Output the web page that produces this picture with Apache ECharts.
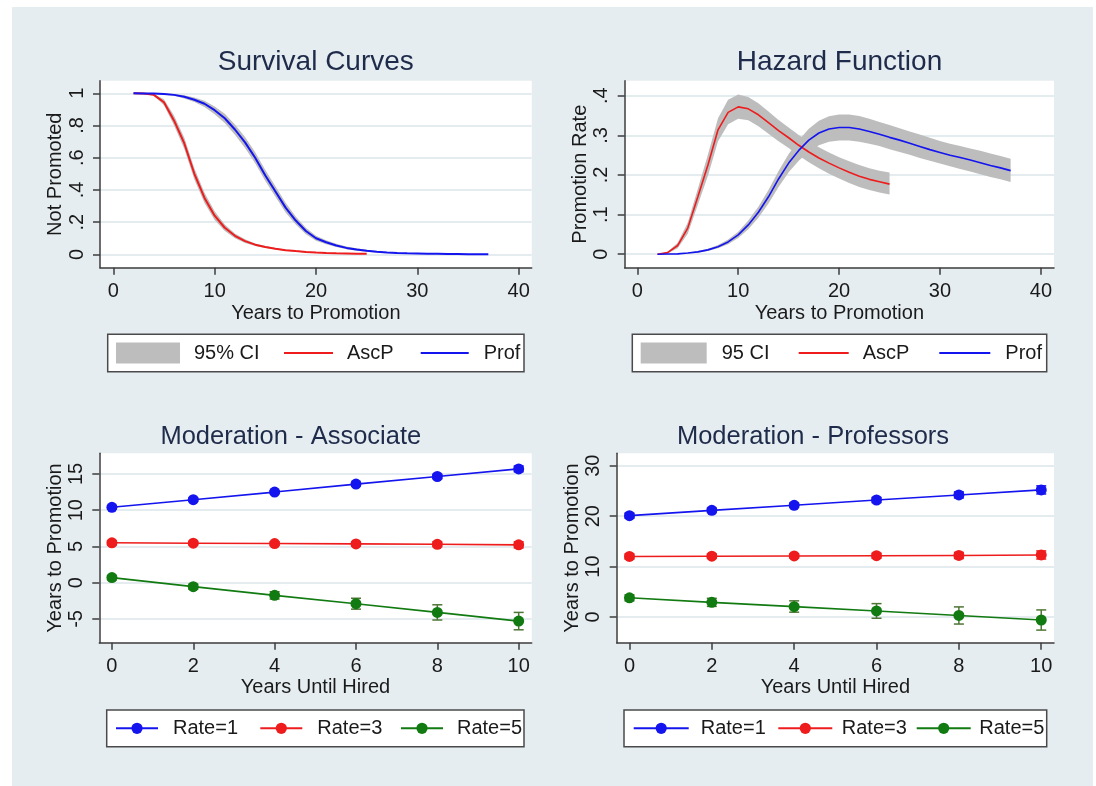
<!DOCTYPE html>
<html><head><meta charset="utf-8">
<script src="https://cdn.jsdelivr.net/npm/echarts@6/dist/echarts.min.js"></script>
<style>html,body{margin:0;padding:0;background:#fff;}#c{width:1096px;height:786px;}</style>
</head><body><div id="c"></div>
<script>
// ---------- data ----------
const ascYears  = [2,3,4,5,6,7,8,9,10,11,12,13,14,15,16,17,18,19,20,21,22,23,24,25];
const profYears = [2,3,4,5,6,7,8,9,10,11,12,13,14,15,16,17,18,19,20,21,22,23,24,25,26,27,28,29,30,31,32,33,34,35,36,37];

const survAsc   = [1,.998,.99,.944,.83,.69,.50,.35,.24,.165,.115,.082,.06,.046,.035,.026,.02,.015,.011,.008,.006,.005,.004,.003];
const survAscLo = [1,.996,.984,.925,.800,.655,.465,.318,.213,.145,.100,.071,.052,.040,.030,.022,.016,.012,.009,.006,.004,.003,.002,.001];
const survAscHi = [1,1,.996,.963,.860,.725,.535,.382,.267,.185,.130,.093,.068,.052,.040,.030,.024,.018,.013,.010,.008,.007,.006,.005];

const survProf   = [1,.999,.998,.995,.99,.978,.96,.935,.895,.845,.775,.695,.60,.49,.39,.29,.21,.145,.10,.075,.055,.04,.03,.022,.016,.011,.008,.006,.005,.004,.003,.002,.002,.001,.001,0];
const survProfLo = [1,.998,.996,.991,.984,.968,.945,.915,.870,.815,.742,.660,.565,.455,.357,.260,.185,.125,.085,.063,.045,.032,.023,.016,.012,.008,.006,.005,.004,.003,.002,.001,.001,0,0,0];
const survProfHi = [1,1,1,.998,.995,.987,.973,.953,.918,.873,.806,.728,.634,.524,.422,.320,.235,.165,.115,.087,.065,.048,.037,.028,.020,.014,.010,.007,.006,.005,.004,.003,.003,.002,.002,.001];

const hazAsc   = [0,.004,.022,.066,.145,.225,.314,.358,.372,.367,.352,.332,.312,.294,.275,.258,.243,.230,.218,.207,.197,.189,.183,.177];
const hazAscLo = [0,.002,.015,.052,.125,.198,.285,.328,.342,.338,.323,.304,.285,.268,.249,.232,.217,.203,.191,.180,.170,.162,.156,.151];
const hazAscHi = [0,.006,.029,.080,.165,.252,.343,.390,.403,.397,.381,.360,.339,.320,.301,.284,.270,.257,.245,.235,.225,.217,.211,.206];

const hazProf   = [0,.0005,.001,.003,.006,.011,.019,.031,.049,.074,.106,.145,.19,.23,.262,.288,.306,.316,.320,.320,.316,.310,.303,.295,.288,.280,.272,.264,.257,.250,.244,.238,.231,.224,.218,.211];
const hazProfLo = [0,0,0,.002,.004,.008,.015,.025,.041,.063,.092,.128,.170,.207,.236,.259,.275,.284,.287,.287,.284,.279,.273,.265,.258,.251,.243,.236,.229,.222,.215,.209,.202,.195,.189,.182];
const hazProfHi = [0,.001,.002,.004,.008,.014,.023,.037,.057,.085,.120,.162,.210,.253,.288,.317,.337,.348,.353,.353,.349,.342,.334,.326,.318,.310,.302,.294,.286,.279,.273,.267,.261,.254,.248,.241];

const hiredYears = [0,2,4,6,8,10];
// Moderation - Associate
const assocR1 = [10.4,11.45,12.5,13.6,14.65,15.7];
const assocR1Lo = [10.15,11.25,12.3,13.35,14.35,15.3];
const assocR1Hi = [10.65,11.65,12.7,13.85,14.95,16.1];
const assocR3 = [5.5,5.45,5.4,5.35,5.3,5.22];
const assocR3Lo = [5.2,5.2,5.15,5.05,4.95,4.8];
const assocR3Hi = [5.8,5.7,5.65,5.65,5.65,5.65];
const assocR5 = [0.7,-0.55,-1.75,-2.9,-4.1,-5.3];
const assocR5Lo = [0.4,-0.9,-2.25,-3.65,-5.15,-6.5];
const assocR5Hi = [1.0,-0.2,-1.25,-2.15,-3.05,-4.1];
// Moderation - Professors
const profR1 = [20.1,21.15,22.15,23.2,24.2,25.2];
const profR1Lo = [19.6,20.7,21.7,22.7,23.6,24.4];
const profR1Hi = [20.6,21.6,22.6,23.7,24.8,26.0];
const profR3 = [12.0,12.05,12.1,12.15,12.2,12.3];
const profR3Lo = [11.5,11.6,11.7,11.65,11.6,11.5];
const profR3Hi = [12.5,12.5,12.5,12.65,12.8,13.1];
const profR5 = [3.8,2.9,2.05,1.2,0.3,-0.6];
const profR5Lo = [3.2,2.1,0.95,-0.25,-1.4,-2.6];
const profR5Hi = [4.4,3.7,3.2,2.65,2.0,1.4];

// tick labels
const yearTicks = [0,10,20,30,40];
const survTicks = [0,0.2,0.4,0.6,0.8,1];
const hazTicks = [0,0.1,0.2,0.3,0.4];
const hiredTicks = [0,2,4,6,8,10];
const assocTicks = [-5,0,5,10,15];
const profTicks = [0,10,20,30];

// ---------- style ----------
const FONT = 'Liberation Sans, Arial, sans-serif';
const TXT = '#1a1a1a';
const TITLE = '#1e2b4a';
const AX = '#3c3c3c';
const GRIDC = '#e4ecef';
const BG = '#e6edf0';
const CI = '#bdbdbd';
const RED = '#ee1c1c';
const BLUE = '#1414ee';
const GREEN = '#117a11';
const GREEN_BAR = '#4f7535';

const fmt = v => { const s = String(+(+v).toFixed(3)); return s.replace(/^0\./, '.').replace(/^-0\./, '-.'); };

function xAxis(gi, min, max, ticks, name, nameGap) {
  return {
    type: 'value', gridIndex: gi, min, max, name, nameLocation: 'middle', nameGap,
    nameTextStyle: { fontSize: 20, color: TXT, fontFamily: FONT },
    axisLine: { show: true, onZero: false, lineStyle: { color: AX, width: 1.5 } },
    axisTick: { show: true, length: 7, customValues: ticks, lineStyle: { color: AX, width: 1.5 } },
    axisLabel: { customValues: ticks, fontSize: 20, color: TXT, fontFamily: FONT, margin: 14, formatter: fmt },
    splitLine: { show: false }
  };
}
function yAxis(gi, min, max, ticks, name, nameGap) {
  return {
    type: 'value', gridIndex: gi, min, max, name, nameLocation: 'middle', nameGap,
    nameTextStyle: { fontSize: 20, color: TXT, fontFamily: FONT },
    axisLine: { show: true, onZero: false, lineStyle: { color: AX, width: 1.5 } },
    axisTick: { show: true, length: 7, customValues: ticks, lineStyle: { color: AX, width: 1.5 } },
    axisLabel: { customValues: ticks, fontSize: 20, color: TXT, fontFamily: FONT, margin: 13, rotate: 90, formatter: fmt },
    splitLine: { show: true, lineStyle: { color: GRIDC, width: 2 } }
  };
}

function band(name, gi, xs, lo, hi) {
  return {
    type: 'custom', name, xAxisIndex: gi, yAxisIndex: gi, z: 1, silent: true,
    itemStyle: { color: CI },
    data: xs.map((x, i) => [x, lo[i], hi[i]]),
    encode: { x: 0, y: [1, 2] },
    renderItem(params, api) {
      if (params.dataIndex !== 0) return null;
      const pts = [];
      for (let i = 0; i < xs.length; i++) pts.push(api.coord([xs[i], hi[i]]));
      for (let i = xs.length - 1; i >= 0; i--) pts.push(api.coord([xs[i], lo[i]]));
      return { type: 'polygon', shape: { points: pts }, style: { fill: CI } };
    }
  };
}
function curve(name, gi, xs, ys, color, w) {
  return {
    type: 'line', name, xAxisIndex: gi, yAxisIndex: gi, z: 3, silent: true,
    symbol: 'none', color, lineStyle: { color, width: w }, itemStyle: { color },
    data: xs.map((x, i) => [x, ys[i]])
  };
}
function modLine(name, gi, xs, ys, color) {
  return {
    type: 'line', name, xAxisIndex: gi, yAxisIndex: gi, z: 3, silent: true,
    symbol: 'circle', symbolSize: 11, showSymbol: true, color,
    lineStyle: { color, width: 1.6 }, itemStyle: { color },
    data: xs.map((x, i) => [x, ys[i]])
  };
}
function errBars(name, gi, xs, lo, hi, color) {
  return {
    type: 'custom', name, xAxisIndex: gi, yAxisIndex: gi, z: 2, silent: true,
    data: xs.map((x, i) => [x, lo[i], hi[i]]),
    encode: { x: 0, y: [1, 2] },
    renderItem(params, api) {
      const x = api.value(0), l = api.value(1), h = api.value(2);
      const a = api.coord([x, h]), b = api.coord([x, l]);
      const cw = 5;
      const st = { stroke: color, lineWidth: 1.5, fill: null };
      return { type: 'group', children: [
        { type: 'line', shape: { x1: a[0], y1: a[1], x2: b[0], y2: b[1] }, style: st },
        { type: 'line', shape: { x1: a[0] - cw, y1: a[1], x2: a[0] + cw, y2: a[1] }, style: st },
        { type: 'line', shape: { x1: b[0] - cw, y1: b[1], x2: b[0] + cw, y2: b[1] }, style: st }
      ]};
    }
  };
}
// cy = desired vertical centre; legend box top is the top of the taller of icon / text (text box ~20px)
function leg(name, left, cy, w, h, pad, icon) {
  const boxH = Math.max(h, 20);
  const o = {
    data: [name], left, top: cy - boxH / 2, itemWidth: w, itemHeight: h, padding: 0,
    selectedMode: false, orient: 'horizontal',
    textStyle: { fontSize: 20, color: TXT, fontFamily: FONT, padding: [0, 0, 0, pad] }
  };
  if (icon) o.icon = icon;
  return o;
}
function gridBox(left, top, width, height) {
  return { left, top, width, height, show: true, backgroundColor: '#fff', borderWidth: 0, containLabel: false, outerBoundsMode: 'none' };
}
function titleAt(text, cx, top, size) {
  return { text, left: cx, top, textAlign: 'center', padding: 0,
    textStyle: { fontSize: size, fontWeight: 'normal', color: TITLE, fontFamily: FONT } };
}

const chart = echarts.init(document.getElementById('c'), null, { renderer: 'canvas' });
chart.setOption({
  backgroundColor: '#fff',
  animation: false,
  graphic: [
    { type: 'rect', z: -10, silent: true, shape: { x: 12, y: 7, width: 1081, height: 779 }, style: { fill: BG } },
    { type: 'rect', z: 1, silent: true, shape: { x: 107.7, y: 334.3, width: 416.3, height: 37.4 }, style: { fill: '#fff', stroke: '#4a4a4a', lineWidth: 1.5 } },
    { type: 'rect', z: 1, silent: true, shape: { x: 632.3, y: 334.3, width: 414.4, height: 37.4 }, style: { fill: '#fff', stroke: '#4a4a4a', lineWidth: 1.5 } },
    { type: 'rect', z: 1, silent: true, shape: { x: 106.7, y: 710, width: 417.3, height: 36.7 }, style: { fill: '#fff', stroke: '#4a4a4a', lineWidth: 1.5 } },
    { type: 'rect', z: 1, silent: true, shape: { x: 624, y: 710, width: 422.7, height: 36.7 }, style: { fill: '#fff', stroke: '#4a4a4a', lineWidth: 1.5 } }
  ],
  title: [
    titleAt('Survival Curves', 315.8, 48.7, 28),
    titleAt('Hazard Function', 839.5, 48.7, 28),
    titleAt('Moderation - Associate', 290.8, 424, 25.5),
    titleAt('Moderation - Professors', 813, 424, 25.5)
  ],
  grid: [
    gridBox(100, 80.7, 431.7, 187),
    gridBox(624.7, 80.7, 429.3, 187),
    gridBox(99.3, 453.3, 432.4, 189.4),
    gridBox(616.7, 453.3, 437.3, 189.4)
  ],
  xAxis: [
    xAxis(0, -1.31, 41.28, yearTicks, 'Years to Promotion', 36),
    xAxis(1, -1.25, 41.3, yearTicks, 'Years to Promotion', 36),
    xAxis(2, -0.31, 10.32, hiredTicks, 'Years Until Hired', 34),
    xAxis(3, -0.31, 10.31, hiredTicks, 'Years Until Hired', 34)
  ],
  yAxis: [
    yAxis(0, -0.083, 1.078, survTicks, 'Not Promoted', 35),
    yAxis(1, -0.034, 0.438, hazTicks, 'Promotion Rate', 34.7),
    yAxis(2, -8.28, 17.85, assocTicks, 'Years to Promotion', 33.3),
    yAxis(3, -5.1, 32.46, profTicks, 'Years to Promotion', 33.4)
  ],
  legend: [
    leg('95% CI', 116, 353, 64, 21, 9, 'rect'),
    leg('AscP', 284, 353, 49, 2, 9, 'rect'),
    leg('Prof', 420.7, 353, 48, 2, 10, 'rect'),
    leg('95 CI', 640.7, 353, 66, 21, 10, 'rect'),
    leg('AscP', 798.7, 353, 50, 2, 9, 'rect'),
    leg('Prof', 939.3, 353, 51, 2, 10, 'rect'),
    leg('Rate=1', 115, 728.3, 42, 14, 10),
    leg('Rate=3', 259.3, 728.3, 42, 14, 10),
    leg('Rate=5', 400, 728.3, 42, 14, 9),
    leg('Rate=1', 632.7, 728.3, 55, 14, 7),
    leg('Rate=3', 777.3, 728.3, 54, 14, 4.5),
    leg('Rate=5', 915.7, 728.3, 54, 14, 3.6)
  ],
  series: [
    band('95% CI', 0, ascYears, survAscLo, survAscHi),
    band('95% CI', 0, profYears, survProfLo, survProfHi),
    curve('AscP', 0, ascYears, survAsc, RED, 2),
    curve('Prof', 0, profYears, survProf, BLUE, 2),
    band('95 CI', 1, ascYears, hazAscLo, hazAscHi),
    band('95 CI', 1, profYears, hazProfLo, hazProfHi),
    curve('AscP', 1, ascYears, hazAsc, RED, 1.6),
    curve('Prof', 1, profYears, hazProf, BLUE, 1.6),
    modLine('Rate=1', 2, hiredYears, assocR1, BLUE),
    modLine('Rate=3', 2, hiredYears, assocR3, RED),
    modLine('Rate=5', 2, hiredYears, assocR5, GREEN),
    errBars('ciA1', 2, hiredYears, assocR1Lo, assocR1Hi, BLUE),
    errBars('ciA3', 2, hiredYears, assocR3Lo, assocR3Hi, RED),
    errBars('ciA5', 2, hiredYears, assocR5Lo, assocR5Hi, GREEN_BAR),
    modLine('Rate=1', 3, hiredYears, profR1, BLUE),
    modLine('Rate=3', 3, hiredYears, profR3, RED),
    modLine('Rate=5', 3, hiredYears, profR5, GREEN),
    errBars('ciP1', 3, hiredYears, profR1Lo, profR1Hi, BLUE),
    errBars('ciP3', 3, hiredYears, profR3Lo, profR3Hi, RED),
    errBars('ciP5', 3, hiredYears, profR5Lo, profR5Hi, GREEN_BAR)
  ]
});
</script>
</body></html>
